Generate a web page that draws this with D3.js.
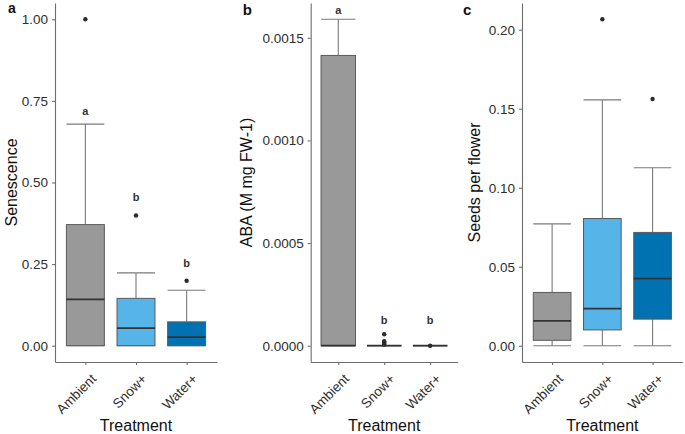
<!DOCTYPE html>
<html>
<head>
<meta charset="utf-8">
<script src="https://cdnjs.cloudflare.com/ajax/libs/d3/7.8.5/d3.min.js"></script>
<style>
  body { margin: 0; background: #fff; }
  text { font-family: "Liberation Sans", Arial, sans-serif; }
</style>
</head>
<body>
<svg id="chart" width="685" height="434"></svg>
<script>
// treatments and fill colours shared by all panels
const treatments = ["Ambient", "Snow+", "Water+"];
const fills = ["#999999", "#56B4E9", "#0072B2"];

// panel a: senescence (box stats per treatment)
const senLow = [0, 0, 0];
const senQ1 = [0, 0, 0];
const senMed = [0.142, 0.054, 0.026];
const senQ3 = [0.371, 0.145, 0.073];
const senHigh = [0.679, 0.223, 0.17];
const senOut = [[1.0], [0.399], [0.199]];
const senLetters = ["a", "b", "b"];
const senLetterY = [0.72, 0.455, 0.254];
const senTicks = [0, 0.25, 0.5, 0.75, 1.0];

// panel b: ABA
const abaLow = [0, 0, 0];
const abaQ1 = [0, 0, 0];
const abaMed = [0, 0, 0];
const abaQ3 = [0.001414, 0, 0];
const abaHigh = [0.00159, 0, 0];
const abaOut = [[], [0.0000557, 0.000022, 0.000016, 0.00001, 0.000005], [0]];
const abaLetters = ["a", "b", "b"];
const abaLetterY = [0.001636, 0.000126, 0.000126];
const abaTicks = [0, 0.0005, 0.0010, 0.0015];

// panel c: seeds per flower
const seedLow = [0, 0, 0];
const seedQ1 = [0.0034, 0.00997, 0.0168];
const seedMed = [0.0157, 0.0235, 0.0425];
const seedQ3 = [0.0337, 0.0805, 0.0717];
const seedHigh = [0.0771, 0.1556, 0.1126];
const seedOut = [[], [0.2066], [0.1562]];
const seedTicks = [0, 0.05, 0.10, 0.15, 0.20];

let svg = d3.select("#chart");

const plotTop = 3, plotBottom = 362;

let panels = [
  { tag: "a", tagY: 13, left: 55, right: 217, title: "Senescence", titleX: 17, fmt: ".2f",
    low: senLow, q1: senQ1, med: senMed, q3: senQ3, high: senHigh, out: senOut,
    letters: senLetters, letterY: senLetterY, ticks: senTicks },
  { tag: "b", tagY: 15, left: 310.7, right: 457.7, title: "ABA (M mg FW-1)", titleX: 252, fmt: ".4f",
    low: abaLow, q1: abaQ1, med: abaMed, q3: abaQ3, high: abaHigh, out: abaOut,
    letters: abaLetters, letterY: abaLetterY, ticks: abaTicks },
  { tag: "c", tagY: 15, left: 522, right: 682.7, title: "Seeds per flower", titleX: 480, fmt: ".2f",
    low: seedLow, q1: seedQ1, med: seedMed, q3: seedQ3, high: seedHigh, out: seedOut,
    letters: null, letterY: null, ticks: seedTicks }
];

panels.forEach(function(p, pi) {
  let g = svg.append("g");

  // y range like ggplot: data range plus 5% each side
  let allVals = p.low.concat(p.high, d3.merge(p.out));
  let lo = d3.min(allVals), hi = d3.max(allVals);
  let pad = (hi - lo) * 0.05;
  let y = d3.scaleLinear().domain([lo - pad, hi + pad]).range([plotBottom, plotTop]);

  let x = d3.scalePoint().domain(treatments).range([p.left, p.right]).padding(0.6);
  let bw = x.step() * 0.75;

  // axes
  let yAxis = g.append("g")
    .attr("transform", `translate(${p.left},0)`)
    .call(d3.axisLeft(y).tickValues(p.ticks).tickFormat(d3.format(p.fmt)).tickSize(3).tickPadding(4).tickSizeOuter(0));
  let xAxis = g.append("g")
    .attr("transform", `translate(0,${plotBottom})`)
    .call(d3.axisBottom(x).tickSize(3).tickSizeOuter(0).tickFormat(""));
  [yAxis, xAxis].forEach(function(ax) {
    ax.select(".domain").attr("stroke", "#6e6e6e").attr("stroke-width", 1.1);
    ax.selectAll(".tick line").attr("stroke", "#6e6e6e").attr("stroke-width", 1.1);
  });
  yAxis.selectAll(".tick text")
    .attr("fill", "#2e2e2e").style("font-size", "13.5px");

  // rotated x labels
  g.selectAll(".xlab")
    .data(treatments)
    .enter()
    .append("text")
    .attr("class", "xlab")
    .attr("transform", d => `translate(${x(d) + 5},${plotBottom + 11}) rotate(-45)`)
    .attr("text-anchor", "end")
    .attr("dy", "0.7em")
    .attr("fill", "#2e2e2e")
    .style("font-size", "13.5px")
    .text(d => d);

  // titles
  g.append("text")
    .attr("x", (p.left + p.right) / 2)
    .attr("y", 431)
    .attr("text-anchor", "middle")
    .attr("fill", "#111")
    .style("font-size", "16px")
    .text("Treatment");

  g.append("text")
    .attr("transform", `translate(${p.titleX},${(plotTop + plotBottom) / 2}) rotate(-90)`)
    .attr("text-anchor", "middle")
    .attr("fill", "#111")
    .style("font-size", "16px")
    .text(p.title);

  g.append("text")
    .attr("x", p.left - (pi === 0 ? 47 : pi === 1 ? 68 : 59))
    .attr("y", p.tagY)
    .attr("font-weight", "bold")
    .attr("fill", "#111")
    .style("font-size", pi === 0 ? "14px" : "15px")
    .text(p.tag);

  // boxes
  treatments.forEach(function(t, i) {
    let cx = x(t);
    let wcol = "#7a7a7a";
    // whiskers with caps
    g.append("line").attr("x1", cx).attr("x2", cx)
      .attr("y1", y(p.q3[i])).attr("y2", y(p.high[i]))
      .attr("stroke", wcol).attr("stroke-width", 1.1);
    g.append("line").attr("x1", cx).attr("x2", cx)
      .attr("y1", y(p.q1[i])).attr("y2", y(p.low[i]))
      .attr("stroke", wcol).attr("stroke-width", 1.1);
    [p.high[i], p.low[i]].forEach(function(v) {
      g.append("line").attr("x1", cx - bw / 2).attr("x2", cx + bw / 2)
        .attr("y1", y(v)).attr("y2", y(v))
        .attr("stroke", wcol).attr("stroke-width", 1.1);
    });
    g.append("rect")
      .attr("x", cx - bw / 2)
      .attr("y", y(p.q3[i]))
      .attr("width", bw)
      .attr("height", y(p.q1[i]) - y(p.q3[i]))
      .attr("fill", fills[i])
      .attr("stroke", "#5a5a5a")
      .attr("stroke-width", 1);
    g.append("line").attr("x1", cx - bw / 2).attr("x2", cx + bw / 2)
      .attr("y1", y(p.med[i])).attr("y2", y(p.med[i]))
      .attr("stroke", "#333").attr("stroke-width", 1.8);

    // outliers
    g.selectAll(null)
      .data(p.out[i])
      .enter()
      .append("circle")
      .attr("cx", cx)
      .attr("cy", d => y(d))
      .attr("r", 2.2)
      .attr("fill", "#2b2b2b");

    // significance letters
    if (p.letters) {
      g.append("text")
        .attr("x", cx)
        .attr("y", y(p.letterY[i]) + 4)
        .attr("text-anchor", "middle")
        .attr("font-weight", "bold")
        .attr("fill", "#333")
        .style("font-size", "11px")
        .text(p.letters[i]);
    }
  });
});
</script>
</body>
</html>
